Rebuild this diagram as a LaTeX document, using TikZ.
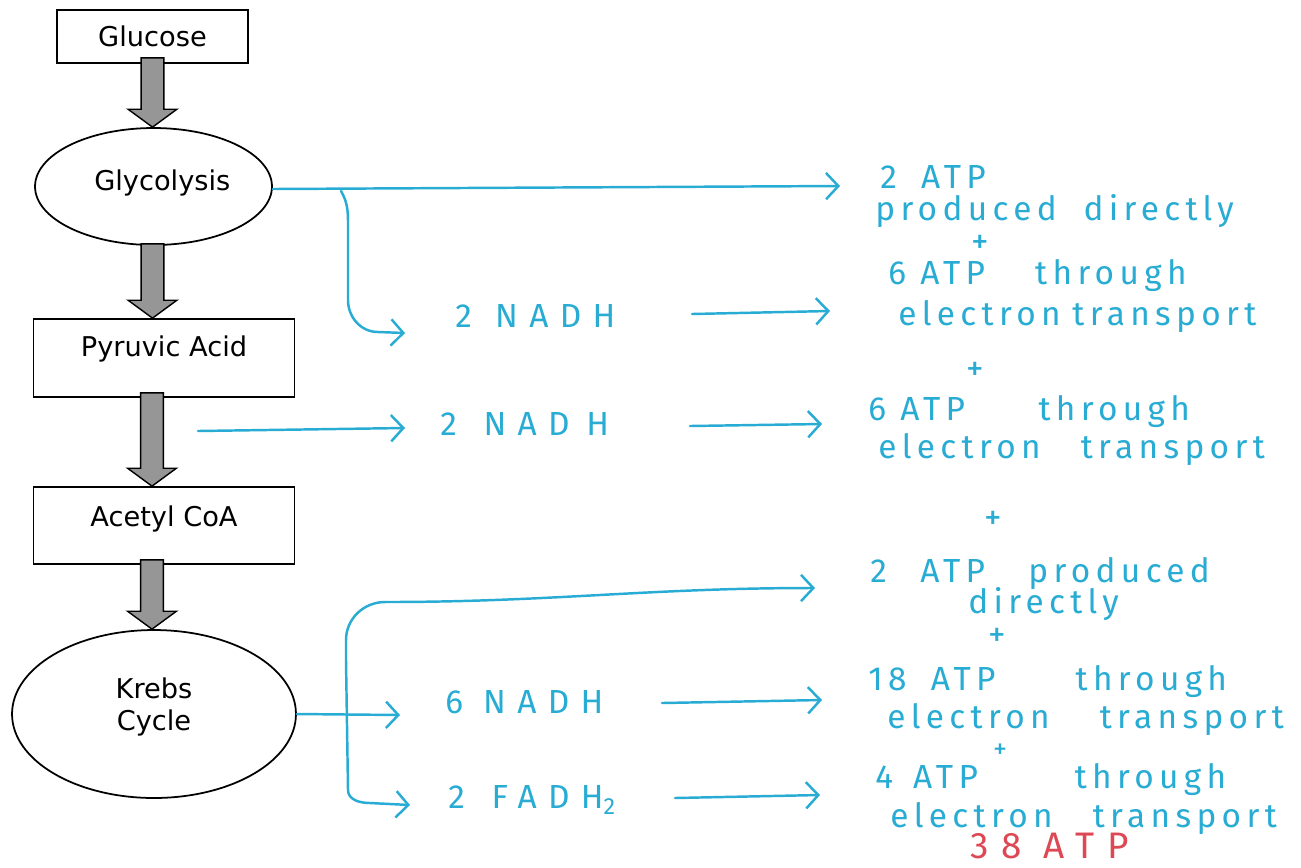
\documentclass[tikz,border=0pt]{standalone}
\usepackage{fontspec}
\setmainfont{DejaVu Sans}
\newfontfamily\hand{Fira Sans}[LetterSpace=16]
\newfontfamily\handw{Fira Sans}[LetterSpace=34]
\usetikzlibrary{arrows.meta,calc,shapes.geometric}
\definecolor{pen}{RGB}{40,172,212}
\definecolor{redpen}{RGB}{222,72,84}
\definecolor{blockgray}{RGB}{150,150,150}
\newcommand\blockarrow[2]{%
  \path[fat] let \p1=(#1), \p2=(#2) in
   (\x1-6.5pt,\y1) -- (\x1-6.5pt,\y2+10.2pt) -- (\x1-13.9pt,\y2+10.2pt) --
   (\x1,\y2) -- (\x1+13.9pt,\y2+10.2pt) -- (\x1+6.5pt,\y2+10.2pt) --
   (\x1+6.5pt,\y1) -- cycle;}
\begin{document}
\begin{tikzpicture}[x=0.02cm,y=-0.02cm,
  box/.style={draw,line width=1pt,inner sep=0pt,font=\fontsize{15.5}{18}\selectfont},
  oval/.style={ellipse,draw,line width=1pt,inner sep=0pt},
  lbl/.style={font=\fontsize{15.5}{18}\selectfont,align=center},
  fat/.style={fill=blockgray,draw=black,line width=0.8pt},
  hw/.style={font=\hand\fontsize{19}{22}\selectfont,text=pen,inner sep=0pt,anchor=west,
     text height=13pt,text depth=4pt},
  hww/.style={hw,font=\handw\fontsize{19}{22}\selectfont},
  plus/.style={font=\hand\fontsize{20}{22}\selectfont,text=pen,inner sep=0pt,
     text height=9pt,text depth=0pt},
  ink/.style={draw=pen,line width=1.4pt,line cap=round,line join=round},
  inkarrow/.style={ink,-{Straight Barb[length=7pt,width=15pt]}}]
\useasboundingbox (0,0) rectangle (1301,867);
\fill[white] (0,0) rectangle (1301,867);

% flow boxes
\node[box,minimum width=3.82cm,minimum height=1.06cm] (glu) at (152.5,36.5) {Glucose};
\node[oval,minimum width=4.74cm,minimum height=2.34cm,
  label={[lbl,xshift=5pt,yshift=2pt]center:Glycolysis}] (gly) at (153.5,186.5) {};
\node[box,minimum width=5.22cm,minimum height=1.56cm,
  label={[lbl,yshift=5pt]center:Pyruvic Acid}] (pyr) at (164,358) {};
\node[box,minimum width=5.22cm,minimum height=1.54cm,
  label={[lbl,yshift=4pt]center:Acetyl CoA}] (acy) at (164,525.5) {};
\node[oval,minimum width=5.68cm,minimum height=3.36cm,
  label={[lbl,yshift=4pt]center:Krebs\\Cycle}] (kre) at (154,714) {};

\blockarrow{$(glu.south)+(0,-6)$}{gly.north}
\blockarrow{$(gly.south)+(-1,-2)$}{pyr.north}
\blockarrow{$(pyr.south)+(-12,-5)$}{acy.north}
\blockarrow{$(acy.south)+(-12,-5)$}{kre.north}

% handwritten intermediates
\node[hww] (nadh1) at (455,320) {2\hspace{0.7em}NADH};
\node[hww] (nadh2) at (440,428) {2\hspace{0.8em}NAD\hspace{0.5em}H};
\node[hww] (nadh3) at (445,706) {6\hspace{0.6em}NADH};
\node[hww] (fadh) at (448,801) {2\hspace{0.8em}FADH\textsubscript{2}};

% handwritten results
\node[hw] (t1) at (880,181) {2\hspace{0.3em} ATP};
\node[hw] (t2) at (875,213) {produced\hspace{0.8em}directly};
\node[plus] (p1) at (980,246) {+};
\node[hw] (t3) at (888,277) {6 ATP\hspace{1.5em}through};
\node[hw] (t4) at (898,318) {electron\hspace{0.35em}transport};
\node[plus] (p2) at (975,373) {+};
\node[hw] (t5) at (868,413) {6 ATP\hspace{2.2em}through};
\node[hw] (t6) at (878,451) {electron\hspace{1.2em}transport};
\node[plus] (p3) at (993,522) {+};
\node[hw] (t7) at (870,575) {2\hspace{1em}ATP\hspace{1.3em}produced};
\node[hw] (t8) at (968,606) {directly};
\node[plus] (p4) at (997,639) {+};
\node[hw] (t9) at (868,683) {18\hspace{0.3em} ATP\hspace{2.4em}through};
\node[hw] (t10) at (887,721) {electron\hspace{1.5em}transport};
\node[plus,font=\hand\fontsize{16}{18}\selectfont,text height=7pt] (p5) at (1000,752) {+};
\node[hw] (t11) at (875,781) {4\hspace{0.6em}ATP\hspace{2.9em}through};
\node[hw] (t12) at (890,820) {electron\hspace{1.2em}transport};
\node[hww,text=redpen,font=\handw\fontsize{21}{24}\selectfont] (tot) at (970,851) {38\hspace{0.6em}ATP};

% coordinates for free ends
\coordinate (a1) at (840,186);
\coordinate (b1) at (341,191);
\coordinate (b1e) at (405,333);
\coordinate (s2) at (198,431);
\coordinate (s2e) at (405,428);
\coordinate (k1) at (400,715);
\coordinate (k2) at (815,588);
\coordinate (k3) at (410,805);
\coordinate (n1s) at (692,314);  \coordinate (n1e) at (830,311);
\coordinate (n2s) at (690,426);  \coordinate (n2e) at (822,424);
\coordinate (n3s) at (662,703);  \coordinate (n3e) at (822,700);
\coordinate (n4s) at (675,798);  \coordinate (n4e) at (820,795);

% glycolysis connectors
\draw[inkarrow] (gly.east |- 0,189) -- (a1);
\draw[inkarrow] (b1) to[out=-60,in=90] (348,225) -- (348,300)
   to[out=-90,in=180] (378,332) -- (b1e);
\draw[inkarrow] (n1s) -- (n1e);

% pyruvic acid connectors
\draw[inkarrow] (s2) -- (s2e);
\draw[inkarrow] (n2s) -- (n2e);

% krebs connectors
\draw[inkarrow] (kre.east) -- (k1);
\draw[ink] (348,790) -- (346,660) -- (346,640) to[out=90,in=180] (385,602);
\draw[inkarrow] (385,602) to[out=0,in=180] (k2);
\draw[inkarrow] (348,790) to[out=-90,in=180] (370,803) -- (k3);
\draw[inkarrow] (n3s) -- (n3e);
\draw[inkarrow] (n4s) -- (n4e);
\end{tikzpicture}
\end{document}
